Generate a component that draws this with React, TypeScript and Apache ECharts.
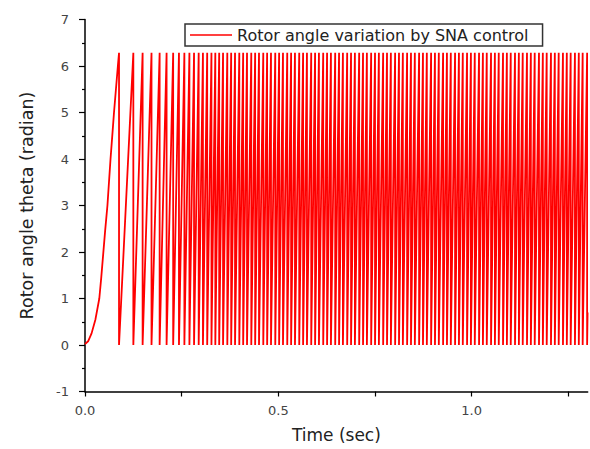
import React, { useEffect, useRef } from "react";
import * as echarts from "echarts";

// Initial acceleration curve (time in s, angle in rad)
const startTimes = [0, 0.008, 0.017, 0.027, 0.037, 0.042, 0.047, 0.052, 0.058, 0.062, 0.066, 0.071, 0.075, 0.08, 0.085, 0.088];
const startTheta = [0.02, 0.08, 0.25, 0.55, 1.0, 1.45, 1.95, 2.45, 3.0, 3.5, 4.0, 4.55, 5.0, 5.5, 6.0, 6.283];

// Times at which the angle wraps from 2*pi back to 0
const wrapTimes = [
  0.088, 0.125, 0.149, 0.172, 0.193, 0.211, 0.228, 0.243, 0.257, 0.27, 0.282,
  0.294, 0.305, 0.316, 0.327, 0.337, 0.347, 0.357, 0.368, 0.378, 0.388, 0.399,
  0.409, 0.419, 0.43, 0.44, 0.45, 0.461, 0.471, 0.481, 0.492, 0.502, 0.512,
  0.523, 0.533, 0.543, 0.554, 0.564, 0.574, 0.585, 0.595, 0.605, 0.616, 0.626,
  0.636, 0.647, 0.657, 0.667, 0.678, 0.688, 0.698, 0.709, 0.719, 0.729, 0.74,
  0.75, 0.76, 0.771, 0.781, 0.791, 0.802, 0.812, 0.822, 0.833, 0.843, 0.853,
  0.864, 0.874, 0.884, 0.895, 0.905, 0.915, 0.926, 0.936, 0.946, 0.957, 0.967,
  0.977, 0.988, 0.998, 1.008, 1.019, 1.029, 1.039, 1.05, 1.06, 1.07, 1.081,
  1.091, 1.101, 1.112, 1.122, 1.132, 1.143, 1.153, 1.163, 1.174, 1.184, 1.194,
  1.205, 1.215, 1.225, 1.236, 1.246, 1.256, 1.267, 1.277, 1.287, 1.2985,
];
const thetaTop = 6.283;
const thetaBottom = 0;
const endTime = 1.2997;
const endTheta = 0.7;

const xTickValues = [0, 0.25, 0.5, 0.75, 1.0, 1.25];
const xLabelValues = [0, 0.5, 1.0];
const seriesName = "Rotor angle variation by SNA control";

function buildData(): number[][] {
  const d: number[][] = startTimes.map((t, i) => [t, startTheta[i]]);
  d.push([wrapTimes[0], thetaBottom]);
  for (let i = 1; i < wrapTimes.length; i++) {
    d.push([wrapTimes[i], thetaTop]);
    d.push([wrapTimes[i], thetaBottom]);
  }
  d.push([endTime, endTheta]);
  return d;
}

const FONT = "DejaVu Sans";

export default function App() {
  const ref = useRef<HTMLDivElement>(null);
  useEffect(() => {
    if (!ref.current) return;
    const chart = echarts.init(ref.current, null, { renderer: "svg" });
    chart.setOption({
      animation: false,
      backgroundColor: "#ffffff",
      textStyle: { fontFamily: FONT },
      grid: { left: 85, right: 2.3, top: 19.5, bottom: 57.5, containLabel: false },
      legend: {
        show: true,
        left: 185,
        top: 24,
        data: [{ name: seriesName, icon: "rect" }],
        itemWidth: 42,
        itemHeight: 1.6,
        itemGap: 5,
        padding: [3, 14, 3, 5],
        borderColor: "#333",
        borderWidth: 1.5,
        backgroundColor: "#ffffff",
        itemStyle: { color: "#ff0000" },
        textStyle: { fontSize: 16, color: "#222", fontFamily: FONT },
      },
      xAxis: {
        type: "value",
        min: 0,
        max: 1.3,
        name: "Time (sec)",
        nameLocation: "middle",
        nameGap: 35,
        nameTextStyle: { fontSize: 17, color: "#222", fontFamily: FONT },
        axisLine: { show: true, onZero: false, lineStyle: { color: "#000", width: 1.5 } },
        axisTick: { show: true, length: 5, customValues: xTickValues, lineStyle: { color: "#000", width: 1.2 } },
        axisLabel: {
          customValues: xLabelValues,
          formatter: (v: number) => v.toFixed(1),
          fontSize: 13,
          color: "#444",
          margin: 12,
          fontFamily: FONT,
        },
        splitLine: { show: false },
      },
      yAxis: {
        type: "value",
        min: -1,
        max: 7,
        interval: 1,
        name: "Rotor angle theta (radian)",
        nameLocation: "middle",
        nameGap: 49,
        nameTextStyle: { fontSize: 17.5, color: "#222", fontFamily: FONT },
        axisLine: { show: true, onZero: false, lineStyle: { color: "#000", width: 1.5 } },
        axisTick: { show: true, length: 6, lineStyle: { color: "#000", width: 1.2 } },
        minorTick: { show: true, splitNumber: 2, length: 3, lineStyle: { color: "#000", width: 1.2 } },
        axisLabel: { fontSize: 13, color: "#444", margin: 16, fontFamily: FONT },
        splitLine: { show: false },
      },
      series: [
        {
          name: seriesName,
          type: "line",
          data: buildData(),
          symbol: "none",
          showSymbol: false,
          silent: true,
          clip: true,
          color: "#ff0000",
          lineStyle: { color: "#ff0000", width: 1.8 },
          itemStyle: { color: "#ff0000" },
        },
      ],
    });
    return () => chart.dispose();
  }, []);
  return <div ref={ref} style={{ position: "absolute", left: 0, top: 0, width: 590, height: 449 }} />;
}
